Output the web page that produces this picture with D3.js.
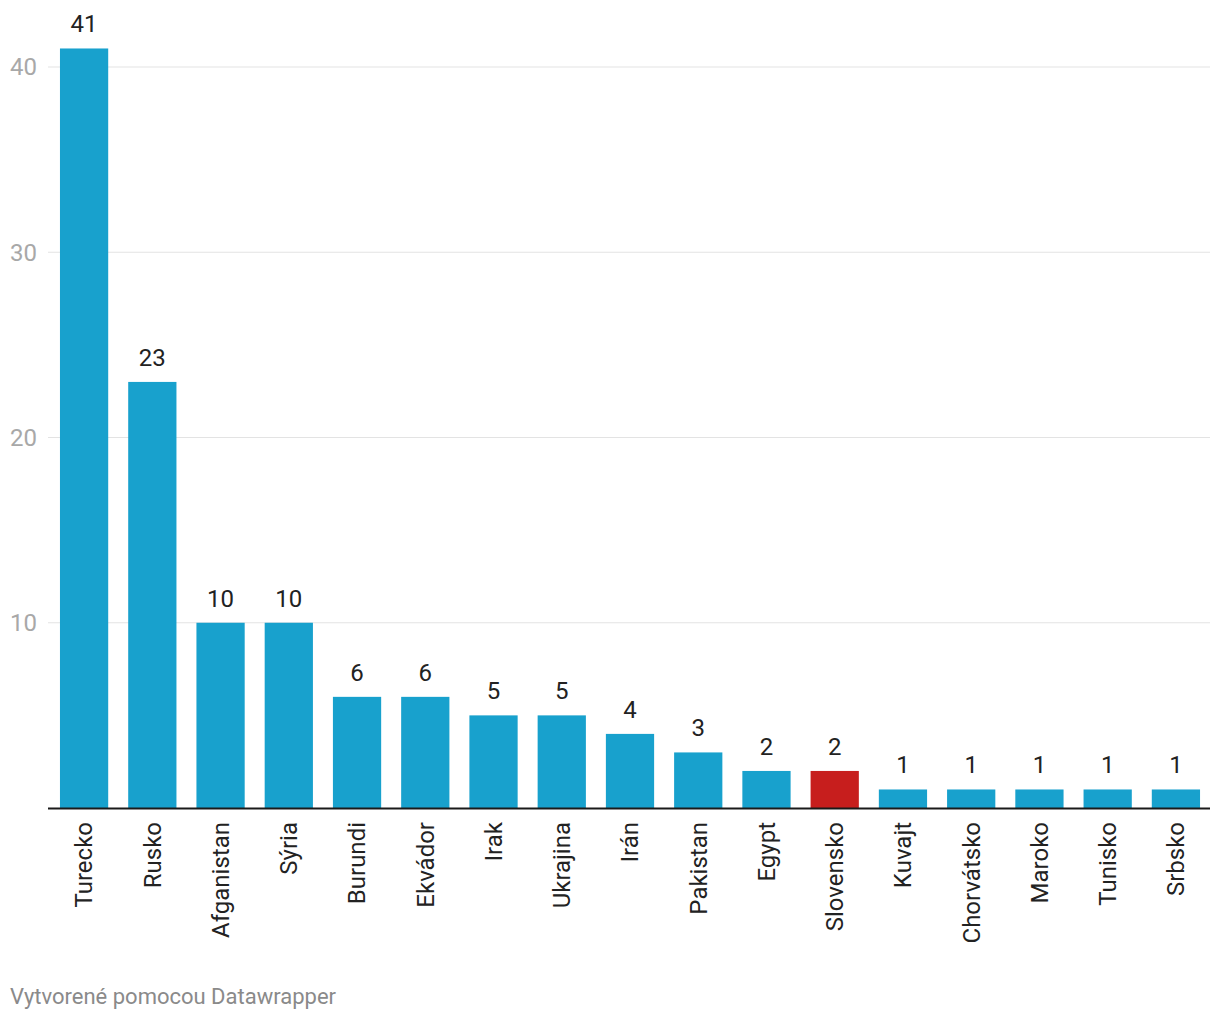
<!DOCTYPE html>
<html>
<head>
<meta charset="utf-8">
<script src="https://cdn.jsdelivr.net/npm/d3@7"></script>
<style>
  body { margin: 0; background: #fff; font-family: Roboto, sans-serif; }
</style>
</head>
<body>
<svg id="vis"></svg>
<script>
const countries = ["Turecko", "Rusko", "Afganistan", "Sýria", "Burundi", "Ekvádor", "Irak", "Ukrajina", "Irán", "Pakistan", "Egypt", "Slovensko", "Kuvajt", "Chorvátsko", "Maroko", "Tunisko", "Srbsko"];
const counts = [41, 23, 10, 10, 6, 6, 5, 5, 4, 3, 2, 2, 1, 1, 1, 1, 1];
const highlight = ["Slovensko"];
const yTicks = [10, 20, 30, 40];

const width = 1220, height = 1020;
const data = countries.map((c, i) => ({country: c, value: counts[i]}));

const svg = d3.select("#vis")
  .attr("width", width)
  .attr("height", height);

// scales
const x = d3.scaleBand()
  .domain(countries)
  .range([50, 1210])
  .paddingInner(0.293)
  .paddingOuter(0.146);

const y = d3.scaleLinear()
  .domain([0, 40])
  .range([808, 67]);

// gridlines
svg.append("g")
  .selectAll("line")
  .data(yTicks)
  .join("line")
    .attr("x1", 48)
    .attr("x2", 1210)
    .attr("y1", d => y(d))
    .attr("y2", d => y(d))
    .style("stroke", "#e3e3e3")
    .style("stroke-width", 1);

svg.append("g")
  .selectAll("text")
  .data(yTicks)
  .join("text")
    .attr("x", 37)
    .attr("y", d => y(d))
    .attr("dy", "0.35em")
    .attr("text-anchor", "end")
    .style("font-size", "24px")
    .style("fill", "#a8a8a8")
    .text(d => d);

// bars
svg.append("g")
  .selectAll("rect")
  .data(data)
  .join("rect")
    .attr("x", d => x(d.country))
    .attr("y", d => y(d.value))
    .attr("width", x.bandwidth())
    .attr("height", d => y(0) - y(d.value))
    .style("fill", d => highlight.includes(d.country) ? "#c71e1d" : "#18a1cd");

// value labels
svg.append("g")
  .selectAll("text")
  .data(data)
  .join("text")
    .attr("x", d => x(d.country) + x.bandwidth() / 2)
    .attr("y", d => y(d.value) - 16)
    .attr("text-anchor", "middle")
    .style("font-size", "24px")
    .style("fill", "#222")
    .text(d => d.value);

// baseline
svg.append("line")
  .attr("x1", 48)
  .attr("x2", 1210)
  .attr("y1", y(0) + 0.5)
  .attr("y2", y(0) + 0.5)
  .style("stroke", "#1a1a1a")
  .style("stroke-width", 2);

// category labels, rotated
svg.append("g")
  .selectAll("text")
  .data(countries)
  .join("text")
    .attr("transform", d => `translate(${x(d) + x.bandwidth() / 2}, 822) rotate(-90)`)
    .attr("dy", "0.35em")
    .attr("text-anchor", "end")
    .style("font-size", "24px")
    .style("fill", "#222")
    .text(d => d);

// footer
svg.append("text")
  .attr("x", 10)
  .attr("y", 1004)
  .style("font-size", "22px")
  .style("fill", "#8a8a8a")
  .text("Vytvorené pomocou Datawrapper");
</script>
</body>
</html>
